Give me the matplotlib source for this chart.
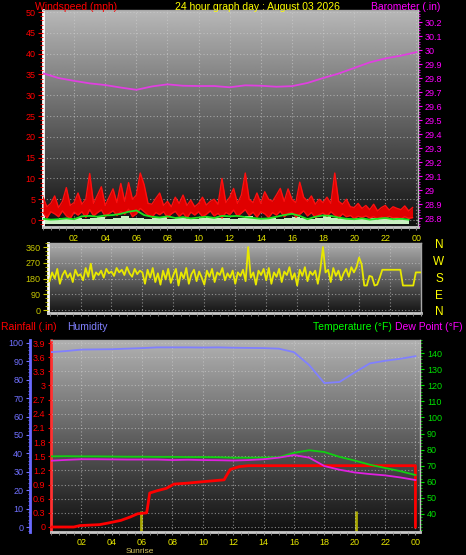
import numpy as np
import matplotlib
matplotlib.use("Agg")
import matplotlib.pyplot as plt
from matplotlib.ticker import MultipleLocator, FuncFormatter

plt.rcParams['font.family'] = ['Liberation Sans', 'DejaVu Sans']

# ---- data ----
title = "24 hour graph day : August 03 2026"
hour_ticks = list(range(2, 25, 2))
hour_labels = [f"{h % 24:02d}" for h in hour_ticks]

# barometer, hourly 00..24
baro_hours = list(range(25))
baro = [29.834, 29.80, 29.78, 29.762, 29.75, 29.732, 29.716, 29.74, 29.755, 29.745,
        29.743, 29.743, 29.734, 29.748, 29.745, 29.738, 29.742, 29.765, 29.80, 29.832,
        29.872, 29.912, 29.94, 29.96, 29.985]

# wind speed every 15 min: upper (gust) and lower edge of the red band
wind_hi = [5.5, 3.2, 4.0, 5.8, 3.0, 4.5, 7.8, 3.5, 4.2, 6.5, 3.8, 5.0,
           11.2, 4.0, 6.0, 8.0, 3.5, 5.5, 7.5, 4.2, 8.8, 4.5, 9.0, 5.0,
           6.0, 11.3, 8.5, 4.0, 3.8, 5.2, 6.5, 3.5, 4.5, 3.2, 5.5, 4.0,
           6.0, 3.5, 4.8, 3.2, 4.0, 5.5, 3.6, 4.5, 5.0, 3.8, 10.0, 4.2,
           5.5, 7.6, 4.0, 6.0, 11.3, 5.0, 4.2, 6.5, 4.0, 6.8, 5.0, 4.5,
           6.0, 7.6, 4.5, 7.5, 5.0, 4.2, 9.1, 5.5, 4.5, 5.8, 3.8, 5.0,
           4.2, 5.5, 4.0, 11.3, 4.5, 3.8, 5.0, 3.2, 3.0, 4.0, 2.8, 3.5,
           2.5, 3.8, 2.2, 3.0, 3.5, 2.4, 3.2, 2.8, 2.5, 3.4, 2.2, 3.0]
wind_lo = [1.8, 0.5, 2.0, 1.5, 0.8, 2.2, 1.0, 0.4, 1.9, 1.2, 2.0, 0.6,
           2.5, 1.0, 1.8, 2.4, 0.9, 1.6, 2.2, 1.1, 2.0, 1.4, 2.6, 0.8,
           1.5, 2.8, 2.0, 1.2, 0.7, 1.8, 1.3, 2.0, 0.6, 1.5, 2.1, 0.9,
           1.7, 0.5, 1.9, 1.2, 2.0, 0.8, 1.4, 2.2, 1.0, 1.6, 0.5, 1.8,
           1.3, 2.4, 0.9, 1.7, 2.5, 1.1, 1.9, 0.7, 2.0, 1.5, 0.6, 1.8,
           1.2, 2.1, 0.8, 1.6, 1.9, 0.7, 1.4, 2.2, 1.0, 1.8, 0.6, 1.3,
           1.7, 0.9, 2.0, 1.2, 0.5, 1.5, 0.8, 1.1, 0.4, 0.9, 0.6, 1.0,
           0.5, 0.8, 0.3, 0.7, 0.4, 0.9, 0.5, 0.6, 0.3, 0.8, 0.4, 0.6]
# average wind every 30 min
wind_avg = [0.3, 0.1, 0.2, 0.4, 0.2, 0.9, 1.0, 0.8, 1.1, 1.2, 1.5, 2.0,
            2.3, 1.2, 0.8, 0.6, 0.9, 0.5, 0.7, 0.4, 0.6, 0.8, 0.5, 1.0,
            0.9, 1.0, 0.7, 0.5, 0.3, 0.4, 0.8, 1.2, 1.5, 1.0, 0.2, 0.8,
            1.1, 1.0, 0.6, 0.3, 0.2, 0.4, 0.1, 0.3, 0.5, 0.2, 0.3, 0.1]
wind_calm = [0.3, 0.2, 0.5, 0.3, 0.6, 0.2, 0.4, 0.8, 0.3, 0.5, 0.9, 0.4,
             0.6, 0.3, 0.5, 0.7, 0.2, 0.4, 0.6, 0.3, 0.5, 0.8, 0.4, 0.6,
             0.3, 0.5, 0.9, 0.4, 0.2, 0.6, 0.3, 0.5, 0.7, 0.4, 0.3, 0.6,
             1.0, 0.4, 0.5, 0.3, 0.6, 0.2, 0.4, 0.5, 0.3, 0.6, 0.2, 0.4]

# wind direction every 10 min (00:00 .. 24:00)
wind_dir = [165, 215, 180, 235, 150, 200, 225, 185, 210, 160, 230, 195,
            205, 170, 240, 190, 265, 175, 215, 200, 225, 185, 235, 210,
            220, 195, 240, 215, 230, 200, 245, 210, 190, 235, 205, 225,
            215, 150, 230, 185, 240, 160, 210, 145, 225, 175, 235, 155,
            200, 235, 140, 215, 180, 240, 150, 205, 230, 165, 220, 185,
            145, 225, 190, 235, 160, 215, 200, 240, 170, 210, 185, 225,
            150, 215, 195, 230, 165, 360, 185, 215, 145, 225, 200, 235,
            170, 240, 150, 215, 190, 235, 160, 220, 200, 245, 175, 210,
            140, 230, 195, 245, 165, 220, 200, 225, 150, 235, 360, 215,
            230, 160, 240, 195, 225, 170, 210, 235, 190, 245, 215, 245,
            300, 260, 140, 140, 195, 190, 140, 145, 185, 230, 230, 230,
            230, 230, 230, 230, 230, 140, 140, 140, 140, 140, 215, 215,
            215]
compass = ["N", "W", "S", "E", "N"]

# bottom panel, hourly 00..24
temp = [75.8, 75.9, 75.8, 75.8, 75.7, 75.6, 75.6, 75.5, 75.5, 75.4, 75.4, 75.3, 75.0,
        75.0, 75.1, 75.3, 78.0, 79.6, 78.5, 75.5, 73.2, 70.6, 68.6, 66.6, 64.2]
dew = [73.1, 73.6, 74.0, 74.0, 73.9, 73.8, 73.8, 73.8, 73.5, 73.7, 73.5, 73.4, 73.2,
       73.5, 74.0, 75.0, 76.6, 75.0, 69.8, 67.5, 65.8, 64.8, 64.0, 62.7, 61.1]
humidity = [95.0, 95.6, 96.4, 96.5, 96.6, 96.9, 97.2, 97.6, 97.6, 97.6, 97.5, 97.6, 97.4,
            97.3, 97.2, 96.9, 95.0, 88.0, 78.2, 78.8, 84.0, 88.9, 90.3, 91.4, 92.8]
rain_hours = [0, 1.5, 1.9, 3.2, 3.7, 4.6, 5.2, 5.7, 6.3, 6.4, 6.5, 7.0, 7.6, 8.1, 9.0,
              10.0, 11.4, 11.5, 11.8, 12.4, 13.0, 24.0, 24.0]
rain = [0, 0, 0.03, 0.05, 0.08, 0.14, 0.21, 0.28, 0.30, 0.5, 0.72, 0.77, 0.82, 0.91,
        0.93, 0.96, 1.0, 1.06, 1.22, 1.28, 1.30, 1.30, 0]
sun_hours = [5.9, 20.1]

# ---- figure ----
W, H = 466, 555
fig = plt.figure(figsize=(W / 100, H / 100), dpi=100, facecolor='black')


def px_axes(x0, y0, x1, y1):
    return fig.add_axes([x0 / W, 1 - y1 / H, (x1 - x0) / W, (y1 - y0) / H])


def shade(ax, top, bottom):
    g = np.linspace(top, bottom, 256).reshape(-1, 1)
    ax.imshow(g, cmap='gray', vmin=0, vmax=1, aspect='auto', extent=(0, 1, 0, 1),
              transform=ax.transAxes, zorder=0, interpolation='bilinear')


def frame(ax):
    ax.set_facecolor('black')
    for s in ['top', 'right']:
        ax.spines[s].set_color('#a8a8a8')
        ax.spines[s].set_linewidth(1)
    ax.spines['left'].set_color('white')
    ax.spines['left'].set_linewidth(2)
    ax.spines['bottom'].set_color('#c8c8c8')
    ax.spines['bottom'].set_linewidth(2)
    ax.grid(True, color='#d0d0d0', lw=0.8, ls=(0, (1, 2)), alpha=0.6)
    ax.set_axisbelow(False)
    ax.xaxis.set_minor_locator(MultipleLocator(0.5))
    ax.tick_params(axis='x', which='both', colors='#909090', length=2, labelsize=6.5,
                   labelcolor='#e8e800', pad=3)


fmt_g = FuncFormatter(lambda v, p: f"{v:g}")

# top panel: windspeed + barometer
ax_w = px_axes(43, 10, 418, 227)
shade(ax_w, 0.72, 0.06)
frame(ax_w)
x15 = np.arange(len(wind_hi)) * 0.25
x30 = np.arange(len(wind_avg)) * 0.5
ax_w.fill_between(x30, -0.9, wind_calm, step='post', color='#c8f0c0', zorder=2, lw=0)
ax_w.fill_between(x15, wind_lo, wind_hi, color='#e00000', zorder=3, lw=0)
ax_w.plot(x15, wind_hi, color='#ff1010', lw=1, zorder=3)
ax_w.plot(x15, wind_lo, color='#ff1010', lw=1, zorder=3)
ax_w.plot(x30, wind_avg, color='#20e020', lw=1.3, zorder=4)
ax_w.set_xlim(0, 24.1)
ax_w.set_ylim(-1.67, 50.5)
ax_w.set_yticks(range(0, 51, 5))
ax_w.yaxis.set_minor_locator(MultipleLocator(1))
ax_w.tick_params(axis='y', which='both', colors='#ff0000', labelsize=6.5, length=3.5, pad=2)
ax_w.tick_params(axis='y', which='minor', length=2)
ax_w.set_xticks(hour_ticks)
ax_w.set_xticklabels(hour_labels)

ax_b = ax_w.twinx()
for s in ['top', 'left', 'bottom']:
    ax_b.spines[s].set_visible(False)
ax_b.spines['right'].set_color('#c0c0c0')
ax_b.plot(baro_hours, baro, color='#e040e0', lw=1.3)
ax_b.set_ylim(28.736, 30.286)
ax_b.set_yticks(np.round(np.arange(28.8, 30.25, 0.1), 1))
ax_b.yaxis.set_major_formatter(fmt_g)
ax_b.yaxis.set_minor_locator(MultipleLocator(0.02))
ax_b.tick_params(axis='y', which='both', colors='#ff00ff', labelsize=6.5, length=3, pad=2)
ax_b.tick_params(axis='y', which='minor', length=1.5)

fig.text(35 / W, 1 - 7 / H, "Windspeed (mph)", color='#ff0000', fontsize=7.5, va='center')
fig.text(257 / W, 1 - 7 / H, title, color='#ffff00', fontsize=7.5, va='center', ha='center')
fig.text(440 / W, 1 - 7 / H, "Barometer (.in)", color='#ff00ff', fontsize=7.5, va='center', ha='right')

# middle panel: wind direction
ax_d = px_axes(48, 243, 421, 313)
shade(ax_d, 0.68, 0.08)
frame(ax_d)
x10 = np.linspace(0, 24, len(wind_dir))
ax_d.plot(x10, wind_dir, color='#e8e800', lw=1.3, zorder=3)
ax_d.set_xlim(-0.1, 24.0)
ax_d.set_ylim(-17, 383)
ax_d.set_yticks([0, 90, 180, 270, 360])
ax_d.yaxis.set_minor_locator(MultipleLocator(22.5))
ax_d.tick_params(axis='y', which='both', colors='#c8c800', labelsize=6.5, length=3.5, pad=2)
ax_d.tick_params(axis='y', which='minor', length=2)
ax_d.set_xticks(hour_ticks)
ax_d.tick_params(axis='x', labelbottom=False)
for lab, yy in zip(compass, [245, 262, 279, 296, 312]):
    fig.text(439 / W, 1 - yy / H, lab, color='#ffff00', fontsize=8.5, ha='center', va='center')

# bottom panel: rain, humidity, temperature, dew point
ax_r = px_axes(51, 340, 420, 532)
shade(ax_r, 0.70, 0.06)
frame(ax_r)
ax_r.spines['left'].set_color('#ff3030')
ax_r.spines['left'].set_linestyle((0, (1, 1)))
ax_r.set_xlim(0, 24.3)
ax_r.set_ylim(-0.106, 3.964)
ax_r.set_yticks(np.round(np.arange(0, 3.95, 0.3), 1))
ax_r.yaxis.set_major_formatter(fmt_g)
ax_r.tick_params(axis='y', colors='#ff0000', labelsize=6.5, length=2, pad=2)
ax_r.set_xticks(hour_ticks)
ax_r.set_xticklabels(hour_labels)
ax_r.tick_params(axis='x', pad=2)
for h in sun_hours:
    ax_r.vlines(h, -0.106, 0.33, color='#a8a800', lw=2, zorder=2)
fig.text(140 / W, 1 - 551.5 / H, "Sunrise", color='#d8c860', fontsize=6,
         ha='center', va='center')
ax_r.plot(rain_hours, rain, color='#ff0000', lw=2, zorder=3)

ax_h = ax_r.twinx()
for s in ['top', 'right', 'bottom']:
    ax_h.spines[s].set_visible(False)
ax_h.yaxis.tick_left()
ax_h.spines['left'].set_position(('outward', 15))
ax_h.spines['left'].set_color('#6a6aff')
ax_h.spines['left'].set_linewidth(2)
ax_h.plot(baro_hours, humidity, color='#8080ff', lw=1.3)
ax_h.set_ylim(-2.7, 101.6)
ax_h.set_yticks(range(0, 101, 10))
ax_h.yaxis.set_minor_locator(MultipleLocator(2))
ax_h.tick_params(axis='y', which='both', colors='#7070ff', labelsize=6.5, length=3, pad=2)
ax_h.tick_params(axis='y', which='minor', length=1.5)

ax_t = ax_r.twinx()
for s in ['top', 'left', 'bottom']:
    ax_t.spines[s].set_visible(False)
ax_t.spines['right'].set_color('#c0c0c0')
ax_t.plot(baro_hours, temp, color='#10d010', lw=1.3)
ax_t.plot(baro_hours, dew, color='#e020e0', lw=1.3)
ax_t.set_ylim(28.8, 148.1)
ax_t.set_yticks(range(40, 141, 10))
ax_t.yaxis.set_minor_locator(MultipleLocator(2))
ax_t.tick_params(axis='y', which='both', colors='#00e000', labelsize=6.5, length=3, pad=2)
ax_t.tick_params(axis='y', which='minor', length=1.5)

fig.text(1 / W, 1 - 327 / H, "Rainfall (.in)", color='#ff0000', fontsize=7.5, va='center')
fig.text(67 / W, 1 - 327 / H, "Humidity", color='#8080ff', fontsize=7.5, va='center')
fig.text(392 / W, 1 - 327 / H, "Temperature (°F)", color='#00ff00', fontsize=7.5, va='center', ha='right')
fig.text(463 / W, 1 - 327 / H, "Dew Point (°F)", color='#ff00ff', fontsize=7.5, va='center', ha='right')

fig.savefig("out.png", dpi=100, facecolor='black')
